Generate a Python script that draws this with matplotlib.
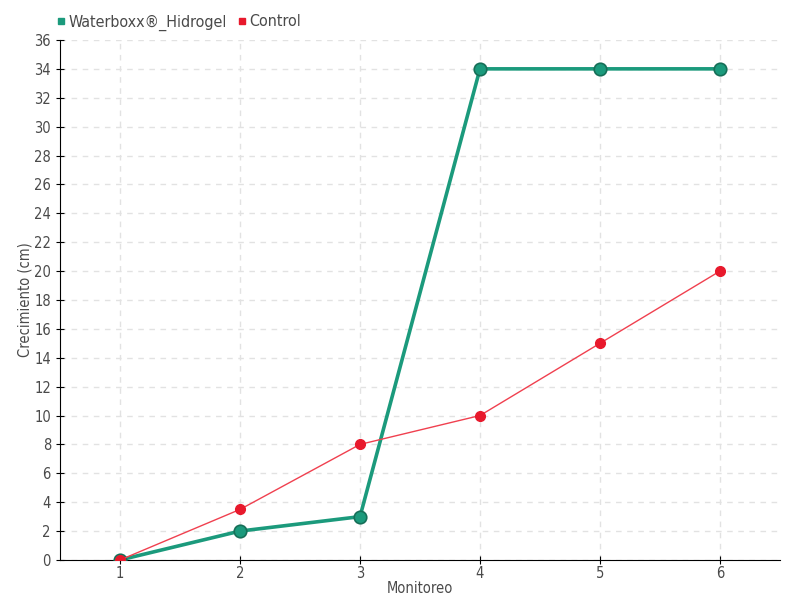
import matplotlib
matplotlib.use("Agg")
import matplotlib.pyplot as plt
from matplotlib.lines import Line2D

# datos
monitoreo = [1, 2, 3, 4, 5, 6]
waterboxx = [0, 2, 3, 34, 34, 34]
control = [0, 3.5, 8, 10, 15, 20]

plt.rcParams['font.family'] = ['DejaVu Sans']
plt.rcParams['font.stretch'] = 'condensed'
txt = '#4a4a4a'

fig = plt.figure(figsize=(8, 6), dpi=100)
ax = fig.add_axes([0.075, 0.0667, 0.9, 0.8667])

verde = '#1b9a7c'
rojo = '#e8192c'

ax.plot(monitoreo, waterboxx, color=verde, lw=2.6, marker='o', ms=9,
        markerfacecolor=verde, markeredgecolor='#166f58', markeredgewidth=1.2, zorder=3)
ax.plot(monitoreo, control, color='#f0404f', lw=1, marker='o', ms=7,
        markerfacecolor=rojo, markeredgecolor=rojo, zorder=4)

ax.set_xlim(0.5, 6.5)
ax.set_ylim(0, 36)
ax.set_xticks(monitoreo)
ax.set_yticks(range(0, 37, 2))
ax.grid(True, color='#e2e2e2', linestyle=(0, (4, 4)), lw=1)
ax.set_axisbelow(True)
for s in ['top', 'right']:
    ax.spines[s].set_visible(False)
ax.tick_params(axis='both', labelsize=10.5, colors=txt, direction='inout', length=6)
ax.tick_params(axis='both', color='black')
ax.tick_params(axis='x', pad=1)
ax.set_xlabel('Monitoreo', fontsize=10.5, color=txt, labelpad=0)
ax.set_ylabel('Crecimiento (cm)', fontsize=10.5, color=txt, labelpad=1)

handles = [Line2D([], [], color=verde, marker='s', ms=5, lw=0),
           Line2D([], [], color=rojo, marker='s', ms=5, lw=0)]
leg = fig.legend(handles, ['Waterboxx®_Hidrogel', 'Control'], loc='upper left',
                 bbox_to_anchor=(0.052, 1.0), ncol=2, frameon=False, fontsize=11.5,
                 handlelength=0.6, handletextpad=0.2, columnspacing=0.6)
for t in leg.get_texts():
    t.set_color(txt)

fig.savefig('out.png', dpi=100)
